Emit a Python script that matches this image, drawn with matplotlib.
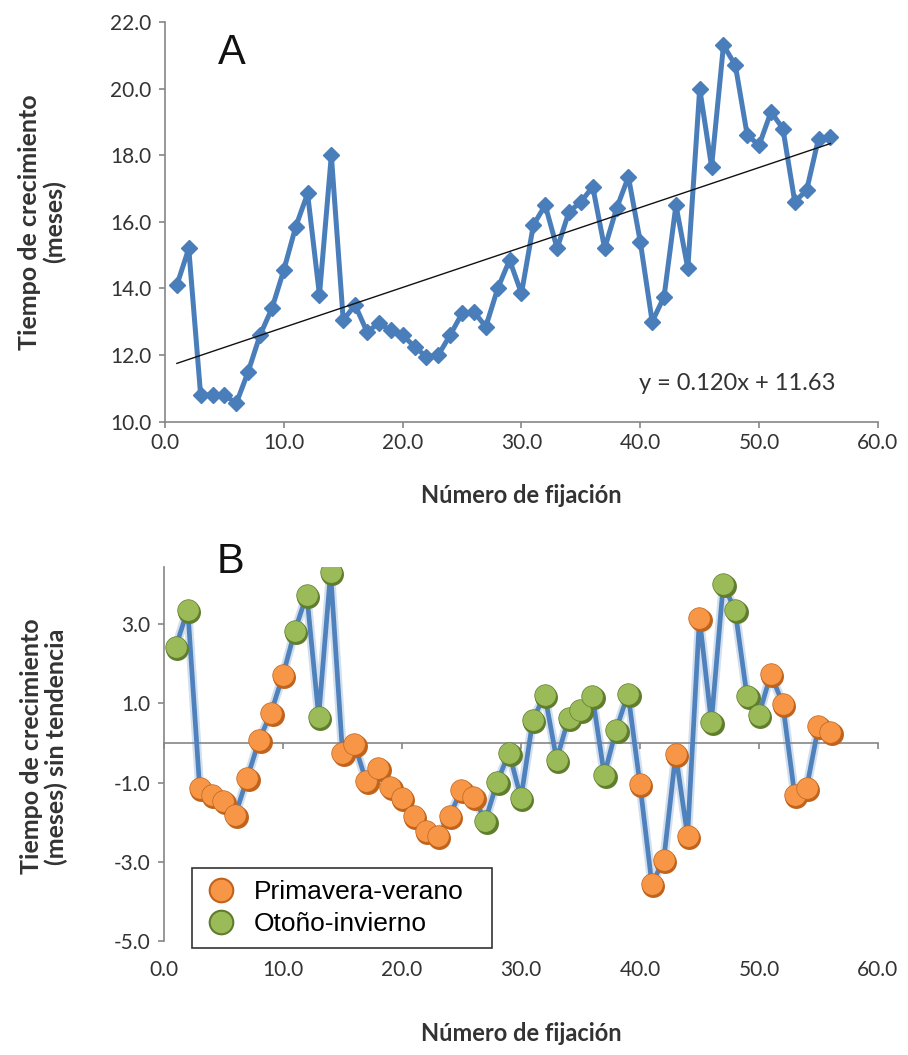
import matplotlib.pyplot as plt
from matplotlib.lines import Line2D
from matplotlib.transforms import offset_copy

# fixation number (x) shared by both panels
fixation = list(range(1, 57))

# panel A: growth time (months)
growth_months = [14.1, 15.2, 10.8, 10.8, 10.8, 10.55, 11.5, 12.6, 13.4, 14.55,
                 15.85, 16.85, 13.8, 18.0, 13.05, 13.5, 12.7, 12.95, 12.75, 12.6,
                 12.25, 11.95, 12.0, 12.6, 13.25, 13.3, 12.85, 14.0, 14.85, 13.85,
                 15.9, 16.5, 15.2, 16.3, 16.6, 17.05, 15.2, 16.4, 17.35, 15.4,
                 13.0, 13.75, 16.5, 14.6, 20.0, 17.65, 21.3, 20.7, 18.6, 18.3,
                 19.3, 18.8, 16.6, 16.95, 18.5, 18.55]

# linear trend shown in panel A
trend_slope = 0.120
trend_intercept = 11.63

# panel B: detrended growth time
detrended = [2.44, 3.37, -1.14, -1.3, -1.47, -1.81, -0.88, 0.08, 0.77, 1.72,
             2.84, 3.75, 0.67, 4.32, -0.24, -0.02, -0.97, -0.63, -1.1, -1.39,
             -1.84, -2.23, -2.36, -1.84, -1.18, -1.35, -1.96, -0.99, -0.24, -1.39,
             0.59, 1.22, -0.42, 0.63, 0.84, 1.2, -0.8, 0.34, 1.25, -1.04,
             -3.56, -2.95, -0.28, -2.34, 3.16, 0.52, 4.02, 3.35, 1.18, 0.71,
             1.75, 0.99, -1.31, -1.14, 0.42, 0.27]

# season of each fixation: PV = primavera-verano, OI = otono-invierno
season = (["OI"] * 2 + ["PV"] * 8 + ["OI"] * 4 + ["PV"] * 12 + ["OI"] * 13
          + ["PV"] * 6 + ["OI"] * 5 + ["PV"] * 6)

season_names = {"PV": "Primavera-verano", "OI": "Otoño-invierno"}
season_colors = {"PV": ("#F79646", "#C0631C"), "OI": ("#9BBB59", "#5F7D2C")}

x_ticks = [0, 10, 20, 30, 40, 50, 60]
a_yticks = [10, 12, 14, 16, 18, 20, 22]
b_yticks = [-5, -3, -1, 1, 3]

AXIS_GRAY = "#868686"
TEXT_GRAY = "#333333"

plt.rcParams["font.family"] = ["Lato", "DejaVu Sans"]

fig = plt.figure(figsize=(9.08, 10.55), dpi=100)


def style_axes(ax):
    for side in ("top", "right"):
        ax.spines[side].set_visible(False)
    for side in ("left", "bottom"):
        ax.spines[side].set_color(AXIS_GRAY)
        ax.spines[side].set_linewidth(1.2)
    ax.tick_params(direction="out", length=4, width=1.2, color=AXIS_GRAY,
                   labelsize=15, labelcolor=TEXT_GRAY, pad=6)


# ---- panel A ----
ax1 = fig.add_axes([0.1817, 0.6003, 0.7852, 0.3789])
style_axes(ax1)
ax1.plot(fixation, growth_months, color="#4A7EBB", lw=3.6, marker="D", ms=8,
         mfc="#4A7EBB", mec="#4A7EBB", zorder=3)
trend_x = [fixation[0], fixation[-1]]
trend_y = [trend_slope * v + trend_intercept for v in trend_x]
ax1.plot(trend_x, trend_y, color="#111111", lw=1.0, zorder=4)
ax1.set_xlim(0, 60)
ax1.set_ylim(10, 22)
ax1.set_xticks(x_ticks)
ax1.set_xticklabels([f"{v:.1f}" for v in x_ticks])
ax1.set_yticks(a_yticks)
ax1.set_yticklabels([f"{v:.1f}" for v in a_yticks])
ax1.tick_params(axis="x", pad=4)
ax1.set_ylabel("Tiempo de crecimiento\n(meses)", fontsize=18, fontweight="bold",
               color=TEXT_GRAY, linespacing=1.1, va="center")
ax1.yaxis.set_label_coords(-0.1725, 0.5)
ax1.set_xlabel("Número de fijación", fontsize=17, fontweight="bold",
               color=TEXT_GRAY)
ax1.xaxis.set_label_coords(0.5, -0.155)
ax1.text(0.665, 0.08, f"y = {trend_slope:.3f}x + {trend_intercept:.2f}",
         transform=ax1.transAxes, fontsize=17, color=TEXT_GRAY)
ax1.text(0.074, 0.895, "A", transform=ax1.transAxes, fontsize=30,
         family="Liberation Sans", color="#111111")

# ---- panel B ----
ax2 = fig.add_axes([0.1806, 0.1081, 0.7863, 0.3545])
style_axes(ax2)
ax2.spines["bottom"].set_position(("data", 0))
ax2.set_xlim(0, 60)
ax2.set_ylim(-5, 4.45)
ax2.set_xticks(x_ticks)
ax2.tick_params(axis="x", labelbottom=False)
ax2.set_yticks(b_yticks)
ax2.set_yticklabels([f"{v:.1f}" for v in b_yticks])

sec = ax2.secondary_xaxis("bottom")
sec.spines["bottom"].set_visible(False)
sec.set_xticks(x_ticks)
sec.set_xticklabels([f"{v:.1f}" for v in x_ticks])
sec.tick_params(length=0, labelsize=15, labelcolor=TEXT_GRAY, pad=14)
sec.set_xlabel("Número de fijación", fontsize=17, fontweight="bold",
               color=TEXT_GRAY, labelpad=30)

ax2.plot(fixation, detrended, color="#4F81BD", lw=6.5, alpha=0.25, zorder=2)
ax2.plot(fixation, detrended, color="#4F81BD", lw=3.4, zorder=3)

shadow_tr = offset_copy(ax2.transData, fig=fig, x=1.5, y=-2.0, units="dots")
for key in ("OI", "PV"):
    xs = [x for x, s in zip(fixation, season) if s == key]
    ys = [y for y, s in zip(detrended, season) if s == key]
    main, dark = season_colors[key]
    ax2.plot(xs, ys, "o", ms=16.5, color=dark, mec="none", transform=shadow_tr,
             zorder=4)
    ax2.plot(xs, ys, "o", ms=15.5, color=main, mec=dark, mew=0.5, zorder=5)

ax2.set_ylabel("Tiempo de crecimiento\n(meses) sin tendencia", fontsize=18,
               fontweight="bold", color=TEXT_GRAY, linespacing=1.1, va="center")
ax2.yaxis.set_label_coords(-0.168, 0.52)
ax2.text(0.074, 0.985, "B", transform=ax2.transAxes, fontsize=30,
         family="Liberation Sans", color="#111111")

handles = []
for key in ("PV", "OI"):
    main, dark = season_colors[key]
    handles.append(Line2D([], [], ls="none", marker="o", ms=17, mfc=main,
                          mec=dark, mew=1.5, label=season_names[key]))
leg = ax2.legend(handles=handles, loc="lower left",
                 bbox_to_anchor=(0.039, -0.019, 0.42, 0.2), mode="expand",
                 borderaxespad=0, frameon=True, fancybox=False,
                 prop={"family": "Liberation Sans", "size": 19},
                 handletextpad=0.6, labelspacing=0.3, borderpad=0.45,
                 handlelength=1.3)
leg.get_frame().set_edgecolor("#000000")
leg.get_frame().set_linewidth(1.2)

fig.savefig("out.png", dpi=100)
